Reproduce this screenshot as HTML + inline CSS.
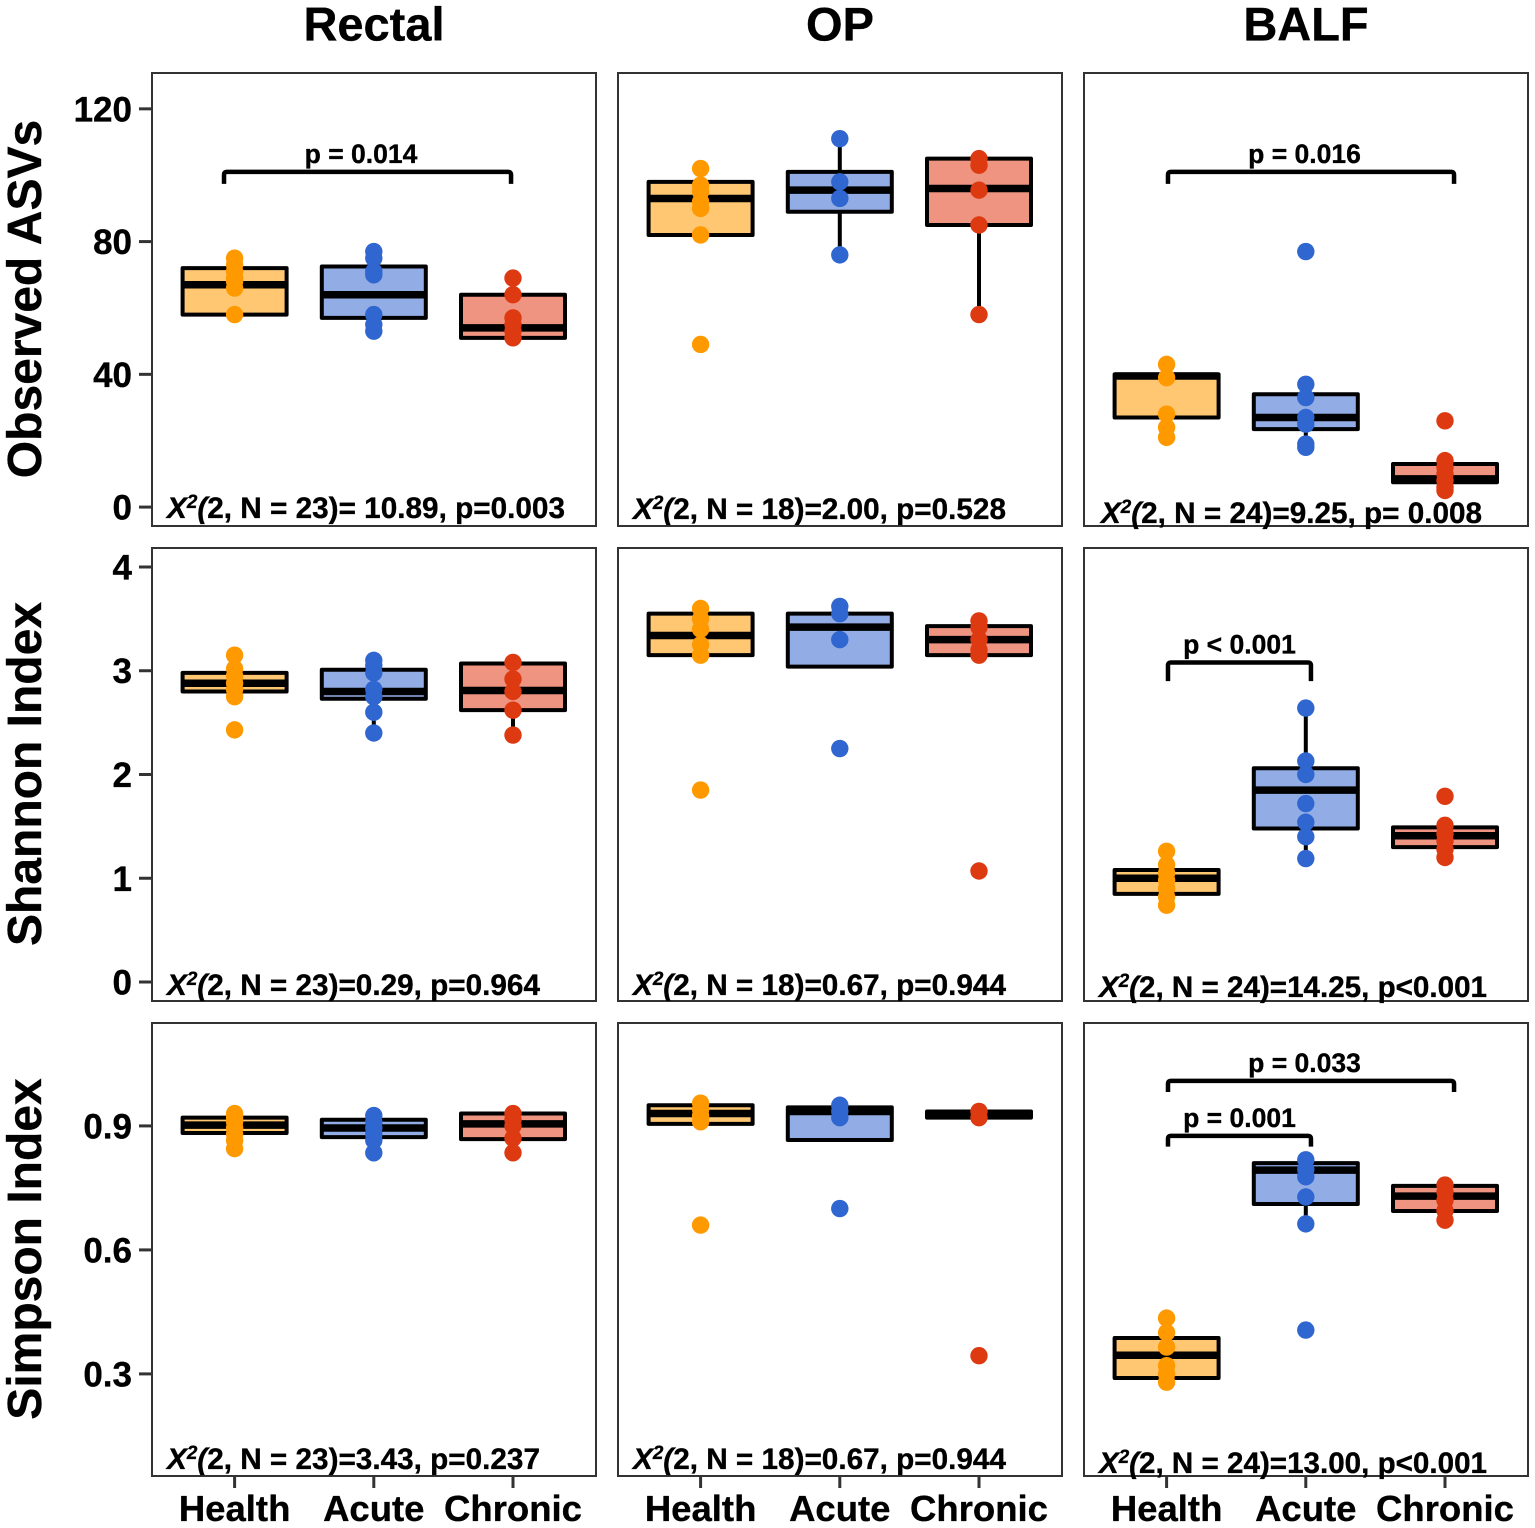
<!DOCTYPE html>
<html lang="en">
<head>
<meta charset="utf-8">
<title>Alpha diversity box plots</title>
<style>
html,body{margin:0;padding:0;background:#fff;}
svg{display:block;font-family:"Liberation Sans",Arial,sans-serif;font-weight:bold;fill:#000;}
svg text{stroke:#000;stroke-width:.35px;}
</style>
</head>
<body>
<svg id="chart" xmlns="http://www.w3.org/2000/svg" width="1535" height="1528" viewBox="0 0 1535 1528"></svg>
<script>
// ---------- labels ----------
const categories = ['Health', 'Acute', 'Chronic'];
const sites = ['Rectal', 'OP', 'BALF'];
const metrics = ['Observed ASVs', 'Shannon Index', 'Simpson Index'];
const asvTicks = [0, 40, 80, 120];
const shannonTicks = [0, 1, 2, 3, 4];
const simpsonTicks = [0.3, 0.6, 0.9];
const simpsonTickLabels = ['0.3', '0.6', '0.9'];

// ---------- value-axis domains ----------
const asvDomain = [-5.7, 130.8];
const shannonDomain = [-0.183, 4.183];
const simpsonDomain = [0.053, 1.149];

// ---------- Observed ASVs: box [q1, median, q3], whisker [low, high], points ----------
const rectalAsvBoxes = [[58, 67, 72], [57, 64, 72.5], [51, 54, 64]];
const rectalAsvWhiskers = [[58, 75], [53, 77], [51, 69]];
const rectalAsvPoints = [[75, 73, 71, 69, 68, 66, 58], [77, 75, 71, 70, 58, 55, 53], [69, 64, 57, 55, 53, 51]];
const opAsvBoxes = [[82, 93, 98], [89, 95.5, 101], [85, 96, 105]];
const opAsvWhiskers = [[82, 102], [76, 111], [58, 105]];
const opAsvPoints = [[102, 97, 95, 92, 90, 82, 49], [111, 98, 93, 76], [105, 103, 95.5, 85, 58]];
const balfAsvBoxes = [[27, 39.5, 40], [23.5, 27, 34], [7.5, 8.5, 13]];
const balfAsvWhiskers = [[21, 43], [18, 37], [5, 14]];
const balfAsvPoints = [[43, 39, 28, 24, 21], [77, 37, 33, 27, 25, 19, 18], [26, 14, 12, 10, 8, 6, 5]];

// ---------- Shannon ----------
const rectalShannonBoxes = [[2.8, 2.88, 2.98], [2.73, 2.8, 3.01], [2.62, 2.81, 3.07]];
const rectalShannonWhiskers = [[2.75, 3.15], [2.4, 3.1], [2.38, 3.08]];
const rectalShannonPoints = [[3.15, 3.02, 2.95, 2.88, 2.82, 2.75, 2.43], [3.1, 3.05, 2.98, 2.82, 2.75, 2.6, 2.4], [3.08, 2.92, 2.8, 2.62, 2.38]];
const opShannonBoxes = [[3.15, 3.34, 3.55], [3.04, 3.42, 3.55], [3.15, 3.3, 3.43]];
const opShannonWhiskers = [[3.15, 3.6], [3.04, 3.62], [3.15, 3.48]];
const opShannonPoints = [[3.6, 3.5, 3.4, 3.25, 3.15, 1.85], [3.62, 3.55, 3.3, 2.25], [3.48, 3.42, 3.3, 3.2, 3.15, 1.07]];
const balfShannonBoxes = [[0.85, 1.0, 1.08], [1.48, 1.85, 2.06], [1.3, 1.41, 1.49]];
const balfShannonWhiskers = [[0.74, 1.26], [1.19, 2.64], [1.2, 1.51]];
const balfShannonPoints = [[1.26, 1.13, 1.05, 0.98, 0.9, 0.82, 0.74], [2.64, 2.13, 2.0, 1.72, 1.54, 1.4, 1.19], [1.79, 1.51, 1.43, 1.36, 1.28, 1.2]];

// ---------- Simpson ----------
const rectalSimpsonBoxes = [[0.883, 0.902, 0.92], [0.873, 0.895, 0.915], [0.868, 0.905, 0.93]];
const rectalSimpsonWhiskers = [[0.842, 0.934], [0.835, 0.925], [0.835, 0.93]];
const rectalSimpsonPoints = [[0.93, 0.92, 0.91, 0.895, 0.88, 0.865, 0.845], [0.925, 0.91, 0.895, 0.88, 0.865, 0.835], [0.93, 0.915, 0.9, 0.87, 0.835]];
const opSimpsonBoxes = [[0.905, 0.93, 0.95], [0.866, 0.935, 0.945], [0.92, 0.928, 0.935]];
const opSimpsonWhiskers = [[0.905, 0.955], [0.866, 0.95], [0.92, 0.935]];
const opSimpsonPoints = [[0.955, 0.94, 0.925, 0.91, 0.66], [0.95, 0.935, 0.92, 0.7], [0.935, 0.92, 0.344]];
const balfSimpsonBoxes = [[0.29, 0.345, 0.387], [0.711, 0.793, 0.81], [0.694, 0.73, 0.755]];
const balfSimpsonWhiskers = [[0.28, 0.435], [0.663, 0.818], [0.672, 0.757]];
const balfSimpsonPoints = [[0.435, 0.4, 0.365, 0.32, 0.3, 0.28], [0.818, 0.795, 0.777, 0.728, 0.663, 0.406], [0.757, 0.74, 0.72, 0.695, 0.672]];

// ---------- significance brackets: [from, to (category units), value, tip value, label] ----------
const rectalAsvBrackets = [[-0.076, 1.986, 101, 97.4, 'p = 0.014']];
const balfAsvBrackets = [[0.01, 2.065, 101, 97.4, 'p = 0.016']];
const balfShannonBrackets = [[0.01, 1.037, 3.08, 2.9, 'p < 0.001']];
const balfSimpsonBrackets = [[0.01, 2.065, 1.009, 0.982, 'p = 0.033'], [0.01, 1.037, 0.876, 0.85, 'p = 0.001']];

// ---------- statistics captions ----------
const asvStats = ['(2, N = 23)= 10.89, p=0.003', '(2, N = 18)=2.00, p=0.528', '(2, N = 24)=9.25, p= 0.008'];
const shannonStats = ['(2, N = 23)=0.29, p=0.964', '(2, N = 18)=0.67, p=0.944', '(2, N = 24)=14.25, p<0.001'];
const simpsonStats = ['(2, N = 23)=3.43, p=0.237', '(2, N = 18)=0.67, p=0.944', '(2, N = 24)=13.00, p<0.001'];

// ---------- layout and style ----------
const colLeft = [152, 618, 1084];
const rowTop = [73, 548, 1023];
const panelW = 444;
const panelH = 453;
const catStart = 82.6;
const catStep = 139.2;
const boxHalf = 52;
const fills = ['#ffc772', '#92ade6', '#ee9480'];
const dots = ['#ff9900', '#2f66cf', '#dd3a12'];
const statX = [[167, 633, 1101], [167, 633, 1099], [167, 633, 1099]];
const statBase = [[518, 519, 523], [995, 995, 997], [1469, 1469, 1473]];
const statLen = [[398, 373, 381], [373, 373, 388], [373, 373, 388]];

const rowsDomain = [asvDomain, shannonDomain, simpsonDomain];
const panelBoxes = [[rectalAsvBoxes, opAsvBoxes, balfAsvBoxes], [rectalShannonBoxes, opShannonBoxes, balfShannonBoxes], [rectalSimpsonBoxes, opSimpsonBoxes, balfSimpsonBoxes]];
const panelWhiskers = [[rectalAsvWhiskers, opAsvWhiskers, balfAsvWhiskers], [rectalShannonWhiskers, opShannonWhiskers, balfShannonWhiskers], [rectalSimpsonWhiskers, opSimpsonWhiskers, balfSimpsonWhiskers]];
const panelPoints = [[rectalAsvPoints, opAsvPoints, balfAsvPoints], [rectalShannonPoints, opShannonPoints, balfShannonPoints], [rectalSimpsonPoints, opSimpsonPoints, balfSimpsonPoints]];
const panelBrackets = [[rectalAsvBrackets, [], balfAsvBrackets], [[], [], balfShannonBrackets], [[], [], balfSimpsonBrackets]];
const rowStats = [asvStats, shannonStats, simpsonStats];
const rowTicks = [asvTicks, shannonTicks, simpsonTicks];
const rowTickLabels = [asvTicks.map(String), shannonTicks.map(String), simpsonTickLabels];

const NS = 'http://www.w3.org/2000/svg';
const svg = document.getElementById('chart');

function node(tag, attrs, parent, text) {
  const n = document.createElementNS(NS, tag);
  for (const k in attrs) n.setAttribute(k, attrs[k]);
  if (text !== undefined) n.textContent = text;
  parent.appendChild(n);
  return n;
}
function yScale(row, v) {
  const d = rowsDomain[row];
  return rowTop[row] + panelH - (v - d[0]) / (d[1] - d[0]) * panelH;
}
function xScale(col, i) {
  return colLeft[col] + catStart + catStep * i;
}

// column titles
sites.forEach(function (s, c) {
  const el = node('text', {x: colLeft[c] + 222, y: 40.5, 'text-anchor': 'middle', 'font-size': 47}, svg, s);
  
  
});

// row titles and value-axis labels
metrics.forEach(function (m, r) {
  const cy = rowTop[r] + 226;
  const el = node('text', {x: 41, y: cy, 'text-anchor': 'middle', 'font-size': 48, transform: 'rotate(-90 41 ' + cy + ')'}, svg, m);
  
  

  rowTicks[r].forEach(function (t, i) {
    const y = yScale(r, t);
    const tick = node('line', {x1: 139, x2: 152, y1: y, y2: y, stroke: '#333', 'stroke-width': 3}, svg);
    
    
    const lab = node('text', {x: 132, y: y + 12.5, 'text-anchor': 'end', 'font-size': 35}, svg, rowTickLabels[r][i]);
    
    
  });
});

// panels
rowTop.forEach(function (top, r) {
  colLeft.forEach(function (left, c) {
    const g = node('g', {}, svg);
    
    

    const frame = node('rect', {x: left, y: top, width: panelW, height: panelH, fill: '#fff', stroke: '#333', 'stroke-width': 2}, g);
    
    

    categories.forEach(function (cat, i) {
      const x = xScale(c, i);
      const name = cat.toLowerCase();
      const b = panelBoxes[r][c][i];
      const w = panelWhiskers[r][c][i];

      const wl = node('line', {x1: x, x2: x, y1: yScale(r, w[0]), y2: yScale(r, w[1]), stroke: '#000', 'stroke-width': 4}, g);
      
      

      const yTop = yScale(r, b[2]);
      const yBot = yScale(r, b[0]);
      const box = node('rect', {x: x - boxHalf, y: yTop, width: boxHalf * 2, height: yBot - yTop, fill: fills[i], stroke: '#000', 'stroke-width': 4, 'stroke-linejoin': 'round'}, g);
      
      

      const my = yScale(r, b[1]);
      const med = node('line', {x1: x - boxHalf, x2: x + boxHalf, y1: my, y2: my, stroke: '#000', 'stroke-width': 7.5}, g);
      
      

      panelPoints[r][c][i].forEach(function (v) {
        const p = node('circle', {cx: x, cy: yScale(r, v), r: 8.7, fill: dots[i]}, g);
        
        
      });
    });

    panelBrackets[r][c].forEach(function (b) {
      const x1 = xScale(c, b[0]);
      const x2 = xScale(c, b[1]);
      const y = yScale(r, b[2]);
      const tip = yScale(r, b[3]);
      const path = node('path', {d: 'M' + x1 + ' ' + tip + 'V' + (y + 3) + 'Q' + x1 + ' ' + y + ' ' + (x1 + 3) + ' ' + y + 'H' + (x2 - 3) + 'Q' + x2 + ' ' + y + ' ' + x2 + ' ' + (y + 3) + 'V' + tip, fill: 'none', stroke: '#000', 'stroke-width': 4.5}, g);
      
      
      const lab = node('text', {x: (x1 + x2) / 2 + (b[1] - b[0] > 1.5 ? -6.5 : 0), y: y - 9, 'text-anchor': 'middle', 'font-size': 26.5}, g, b[4]);
      
      
    });

    const st = node('text', {x: statX[r][c], y: statBase[r][c], 'font-size': 30, textLength: statLen[r][c], lengthAdjust: 'spacingAndGlyphs'}, g);
    
    
    node('tspan', {'font-style': 'italic'}, st, 'X');
    node('tspan', {dy: -10, 'font-size': 19, 'font-style': 'italic'}, st, '2');
    node('tspan', {dy: 10, 'font-style': 'italic'}, st, '(');
    node('tspan', {}, st, rowStats[r][c].slice(1));
  });
});

// category axis
colLeft.forEach(function (left, c) {
  categories.forEach(function (cat, i) {
    const x = xScale(c, i);
    const tick = node('line', {x1: x, x2: x, y1: 1476, y2: 1488, stroke: '#333', 'stroke-width': 3}, svg);
    
    
    const lab = node('text', {x: x, y: 1521, 'text-anchor': 'middle', 'font-size': 36.5}, svg, cat);
    
    
  });
});
</script>
</body>
</html>
